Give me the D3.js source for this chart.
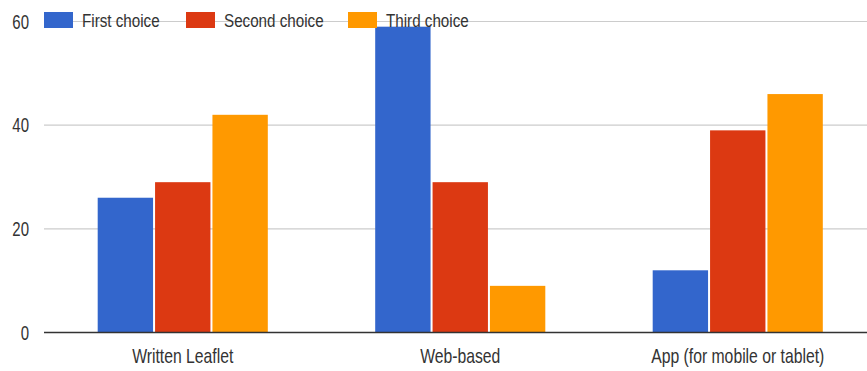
<!DOCTYPE html>
<html>
<head>
<meta charset="utf-8">
<script src="https://cdn.jsdelivr.net/npm/d3@7/dist/d3.min.js"></script>
<style>
  html, body { margin: 0; padding: 0; background: #fff; }
  svg { display: block; }
  text { font-family: "Liberation Sans", Arial, sans-serif; fill: #333; }
</style>
</head>
<body>
<svg id="chart" width="867" height="371"></svg>
<script>
// Preferred format, by rank of choice
const categories = ["Written Leaflet", "Web-based", "App (for mobile or tablet)"];
const seriesNames = ["First choice", "Second choice", "Third choice"];
const firstChoice  = [26, 59, 12];
const secondChoice = [29, 29, 39];
const thirdChoice  = [42, 9, 46];
const yTicks = [0, 20, 40, 60];
const colors = ["#3366cc", "#dc3912", "#ff9900"];

const seriesValues = [firstChoice, secondChoice, thirdChoice];
const rows = categories.map((c, i) => ({
  category: c,
  values: seriesNames.map((s, j) => ({ series: s, value: seriesValues[j][i] }))
}));

const svg = d3.select("#chart");
const W = 867, H = 371;
const plotLeft = 44, plotRight = 876.5, plotTop = 21.5, plotBottom = 332.5;

const x0 = d3.scaleBand()
  .domain(categories)
  .range([plotLeft, plotRight])
  .paddingInner(0.387)
  .paddingOuter(0.1935);

const x1 = d3.scaleBand()
  .domain(seriesNames)
  .range([0, x0.bandwidth()])
  .paddingInner(0.035);

const y = d3.scaleLinear().domain([0, 60]).range([plotBottom, plotTop]);
const color = d3.scaleOrdinal().domain(seriesNames).range(colors);

// condensed text helper: horizontal squeeze around the anchor point
function label(sel, x, yPos, txt, size, anchor, sx) {
  const g = sel.append("g").attr("transform", `translate(${x},${yPos}) scale(${sx},1)`);
  g.append("text")
    .attr("text-anchor", anchor)
    .attr("font-size", size)
    .text(txt);
  return g;
}

// gridlines
svg.append("g").selectAll("line")
  .data(yTicks.filter(d => d !== 0))
  .join("line")
  .attr("x1", plotLeft).attr("x2", W)
  .attr("y1", d => y(d)).attr("y2", d => y(d))
  .attr("stroke", "#cccccc").attr("stroke-width", 1.2);

// y tick labels
const yAxis = svg.append("g");
yTicks.forEach(t => label(yAxis, 29, y(t) + 7, String(t), 20, "end", 0.75));

// bars
svg.append("g").selectAll("g")
  .data(rows)
  .join("g")
  .attr("transform", d => `translate(${x0(d.category)},0)`)
  .selectAll("rect")
  .data(d => d.values)
  .join("rect")
  .attr("x", d => x1(d.series))
  .attr("width", x1.bandwidth())
  .attr("y", d => y(d.value))
  .attr("height", d => y(0) - y(d.value))
  .attr("fill", d => color(d.series));

// baseline
svg.append("line")
  .attr("x1", plotLeft).attr("x2", W)
  .attr("y1", y(0)).attr("y2", y(0))
  .attr("stroke", "#333").attr("stroke-width", 1.5);

// category labels
const xAxis = svg.append("g");
categories.forEach(c => label(xAxis, x0(c) + x0.bandwidth() / 2, 363, c, 21, "middle", 0.75));

// legend
const legendX = [44, 186, 348];
const legend = svg.append("g");
seriesNames.forEach((s, i) => {
  legend.append("rect")
    .attr("x", legendX[i]).attr("y", 12)
    .attr("width", 29).attr("height", 16)
    .attr("fill", colors[i]);
  label(legend, legendX[i] + 38, 27, s, 19, "start", 0.8);
});
</script>
</body>
</html>
